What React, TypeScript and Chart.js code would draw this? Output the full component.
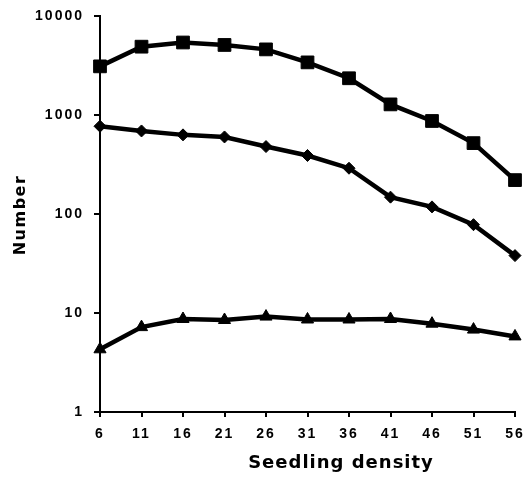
import { useEffect, useRef } from 'react';
import { Chart, registerables } from 'chart.js';

Chart.register(...registerables);

const categories = ['6', '11', '16', '21', '26', '31', '36', '41', '46', '51', '56'];
const squareSeries = [3100, 4900, 5400, 5100, 4600, 3400, 2350, 1280, 870, 520, 220];
const diamondSeries = [770, 690, 630, 600, 480, 390, 290, 148, 118, 78, 38];
const triangleSeries = [4.3, 7.2, 8.7, 8.5, 9.2, 8.6, 8.6, 8.7, 7.8, 6.8, 5.8];
const yTickValues = [1, 10, 100, 1000, 10000];
const xTitle = 'Seedling density';
const yTitle = 'Number';

const spacingPlugin = {
  id: 'spacing',
  beforeLayout(chart: any) {
    chart.ctx.letterSpacing = '2px';
  },
  beforeDraw(chart: any) {
    chart.ctx.letterSpacing = '2px';
  },
  afterDraw(chart: any) {
    const ctx = chart.ctx;
    ctx.save();
    ctx.fillStyle = '#000';
    ctx.font = 'bold 18px "DejaVu Sans"';
    ctx.letterSpacing = '1px';
    ctx.textAlign = 'center';
    ctx.textBaseline = 'alphabetic';
    ctx.fillText(xTitle, 341, 468);
    ctx.restore();
    ctx.save();
    ctx.fillStyle = '#000';
    ctx.font = 'bold 16px "DejaVu Sans"';
    ctx.letterSpacing = '1.5px';
    ctx.textAlign = 'center';
    ctx.textBaseline = 'alphabetic';
    ctx.translate(25, 215);
    ctx.rotate(-Math.PI / 2);
    ctx.fillText(yTitle, 0, 0);
    ctx.restore();
  },
};

export default function App() {
  const ref = useRef<HTMLCanvasElement>(null);
  useEffect(() => {
    document.body.style.margin = '0';
    const tickFont = { family: '"Liberation Sans", Arial, sans-serif', size: 14, weight: 'bold' as const };
    const common = {
      borderColor: '#000',
      backgroundColor: '#000',
      borderWidth: 4.5,
      pointBorderColor: '#000',
      pointBackgroundColor: '#000',
      pointBorderWidth: 1,
      tension: 0,
    };
    const chart = new Chart(ref.current!, {
      type: 'line',
      data: {
        labels: categories,
        datasets: [
          { ...common, label: 'Squares', data: squareSeries, pointStyle: 'rect', pointRadius: 9 },
          { ...common, label: 'Diamonds', data: diamondSeries, pointStyle: 'rectRot', pointRadius: 6 },
          { ...common, label: 'Triangles', data: triangleSeries, pointStyle: 'triangle', pointRadius: 7 },
        ],
      },
      options: {
        responsive: false,
        animation: false,
        layout: { padding: { top: 16, right: 12, left: 0, bottom: 0 } },
        plugins: { legend: { display: false }, tooltip: { enabled: false } },
        scales: {
          x: {
            offset: false,
            grid: { display: true, drawOnChartArea: false, drawTicks: true, tickLength: 5, color: '#000', lineWidth: 2 },
            border: { display: true, color: '#000', width: 2 },
            ticks: { color: '#000', font: tickFont, padding: 9, maxRotation: 0, autoSkip: false },
            afterFit: (s: any) => { s.height = 67; s.paddingLeft = 0; s.paddingRight = 0; },
          },
          y: {
            type: 'logarithmic',
            min: 1,
            max: 10000,
            grid: { display: true, drawOnChartArea: false, drawTicks: true, tickLength: 6, color: '#000', lineWidth: 2 },
            border: { display: true, color: '#000', width: 2 },
            ticks: { color: '#000', font: tickFont, padding: 10, callback: (v: any) => String(v) },
            afterBuildTicks: (s: any) => { s.ticks = yTickValues.map((v) => ({ value: v })); },
            afterFit: (s: any) => { s.width = 100; s.paddingTop = 0; s.paddingBottom = 0; },
          },
        },
      },
      plugins: [spacingPlugin],
    });
    return () => chart.destroy();
  }, []);
  return <canvas ref={ref} width={527} height={479} style={{ display: 'block' }} />;
}
